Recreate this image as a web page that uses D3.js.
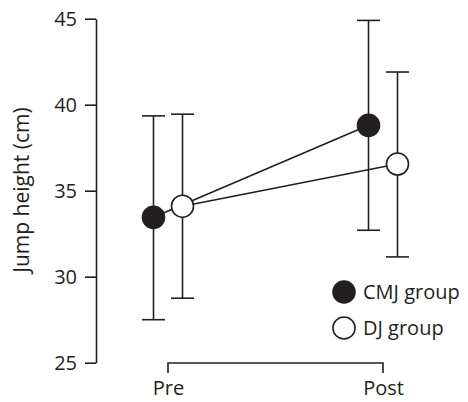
<!DOCTYPE html>
<meta charset="utf-8">
<title>Jump height</title>
<style>
  body { margin: 0; background: #fff; }
  text { font-family: "Open Sans", sans-serif; fill: #231f20; }
</style>
<body>
<script src="https://d3js.org/d3.v7.min.js"></script>
<script type="text/javascript">

// data
var times = ["Pre", "Post"];
var groups = ["CMJ group", "DJ group"];
var cmjMean = [33.45, 38.8];
var cmjLow  = [27.5, 32.7];
var cmjHigh = [39.35, 44.9];
var djMean  = [34.1, 36.55];
var djLow   = [28.75, 31.15];
var djHigh  = [39.45, 41.9];
var yTicks  = [25, 30, 35, 40, 45];

var width = 468, height = 402;
var ink = "#231f20";

var svg = d3.select("body").append("svg")
    .attr("width", width)
    .attr("height", height);

var y = d3.scaleLinear().domain([25, 45]).range([362.7, 18.7]);
var x = d3.scalePoint().domain(times).range([168, 383]);
var offset = { "CMJ group": -14.5, "DJ group": 14.5 };

// y axis
var yAxis = d3.axisLeft(y).tickValues(yTicks).tickSize(11).tickPadding(8).tickSizeOuter(0);
var gy = svg.append("g").attr("transform", "translate(96,0)").call(yAxis);
gy.select(".domain").attr("stroke", ink).attr("stroke-width", 1.6);
gy.selectAll(".tick line").attr("stroke", ink).attr("stroke-width", 1.6);
gy.selectAll(".tick text").style("font-size", "20px").attr("fill", ink);

svg.append("text")
  .attr("transform", "translate(29,190) rotate(-90)")
  .attr("text-anchor", "middle")
  .style("font-size", "21px")
  .text("Jump height (cm)");

// x bracket axis
var xAxis = d3.axisBottom(x).tickSize(0).tickPadding(0);
var gx = svg.append("g").attr("transform", "translate(0,363)").call(xAxis);
gx.select(".domain").remove();
gx.append("path")
  .attr("d", "M" + x("Pre") + ",10V0H" + x("Post") + "V10")
  .attr("fill", "none").attr("stroke", ink).attr("stroke-width", 1.6);
gx.selectAll(".tick text")
  .attr("y", 0).attr("dy", "32px")
  .style("font-size", "20px").attr("fill", ink);

var series = [
  { name: "CMJ group", mean: cmjMean, low: cmjLow, high: cmjHigh, fill: ink },
  { name: "DJ group",  mean: djMean,  low: djLow,  high: djHigh,  fill: "#fff" }
];

function px(s, i) { return x(times[i]) + offset[s.name]; }

// connecting lines
series.forEach(function (s) {
  var line = d3.line()
    .x(function (d, i) { return px(s, i); })
    .y(function (d) { return y(d); });
  svg.append("path").datum(s.mean)
    .attr("d", line)
    .attr("fill", "none").attr("stroke", ink).attr("stroke-width", 1.6);
});

// error bars
series.forEach(function (s) {
  var g = svg.append("g").attr("stroke", ink).attr("stroke-width", 1.6);
  times.forEach(function (t, i) {
    var cx = px(s, i);
    g.append("line").attr("x1", cx).attr("x2", cx).attr("y1", y(s.low[i])).attr("y2", y(s.high[i]));
    g.append("line").attr("x1", cx - 11.5).attr("x2", cx + 11.5).attr("y1", y(s.low[i])).attr("y2", y(s.low[i]));
    g.append("line").attr("x1", cx - 11.5).attr("x2", cx + 11.5).attr("y1", y(s.high[i])).attr("y2", y(s.high[i]));
  });
});

// markers
series.forEach(function (s) {
  svg.append("g").selectAll("circle")
    .data(s.mean)
    .join("circle")
    .attr("cx", function (d, i) { return px(s, i); })
    .attr("cy", function (d) { return y(d); })
    .attr("r", 11)
    .attr("fill", s.fill)
    .attr("stroke", ink).attr("stroke-width", 1.6);
});

// legend
var legend = svg.append("g").selectAll("g")
  .data(series)
  .join("g")
  .attr("transform", function (d, i) { return "translate(344," + (292 + i * 36) + ")"; });
legend.append("circle").attr("r", 11)
  .attr("fill", function (d) { return d.fill; })
  .attr("stroke", ink).attr("stroke-width", 1.6);
legend.append("text").attr("x", 19).attr("dy", "0.36em")
  .style("font-size", "20px")
  .text(function (d) { return d.name; });

</script>
</body>
